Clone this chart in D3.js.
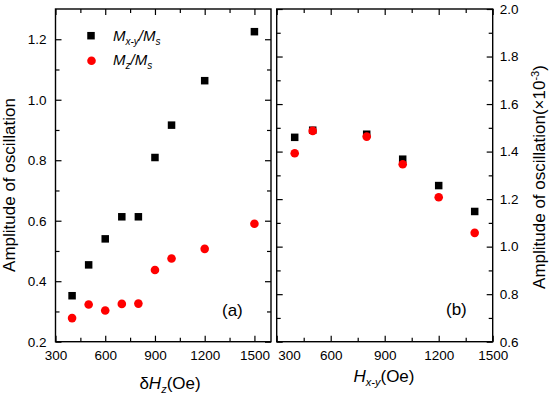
<!DOCTYPE html>
<html>
<head>
<meta charset="utf-8">
<script src="https://cdn.jsdelivr.net/npm/d3@7"></script>
<style>
  body { margin: 0; background: #fff; }
  svg { display: block; font-family: "Liberation Sans", Arial, sans-serif; }
  .tick text { font-size: 13.5px; fill: #000; }
  .tick line { stroke: #000; stroke-width: 1.2; }
</style>
</head>
<body>
<div class="container"></div>
<script>
// panel (a): amplitude vs dHz
const dHz = [400, 500, 600, 700, 800, 900, 1000, 1200, 1500];
const mxyA = [0.352, 0.454, 0.540, 0.613, 0.613, 0.809, 0.916, 1.063, 1.225];
const mzA = [0.278, 0.323, 0.303, 0.325, 0.326, 0.437, 0.475, 0.507, 0.590];

// panel (b): amplitude (x1e-3) vs Hxy
const Hxy = [400, 500, 800, 1000, 1200, 1400];
const mxyB = [1.460, 1.490, 1.473, 1.368, 1.257, 1.148];
const mzB = [1.393, 1.487, 1.463, 1.347, 1.208, 1.058];

// ticks
const xTicks = [300, 600, 900, 1200, 1500];
const xMinor = [450, 750, 1050, 1350];
const yTicksA = [0.2, 0.4, 0.6, 0.8, 1.0, 1.2];
const yMinorA = [0.3, 0.5, 0.7, 0.9, 1.1];
const yTicksB = [0.6, 0.8, 1.0, 1.2, 1.4, 1.6, 1.8, 2.0];
const yMinorB = [0.7, 0.9, 1.1, 1.3, 1.5, 1.7, 1.9];

const width = 550, height = 399;
const plotTop = 9, plotBottom = 341.7;

const svg = d3.select('.container')
    .append('svg')
    .attr('width', width)
    .attr('height', height);

// scales
const xA = d3.scaleLinear().domain([300, 1600]).range([55.5, 271]);
const yA = d3.scaleLinear().domain([0.2, 1.3]).range([plotBottom, plotTop]);
const xB = d3.scaleLinear().domain([300, 1500]).range([276.7, 492.7]);
const yB = d3.scaleLinear().domain([0.6, 2.0]).range([plotBottom, plotTop]);

const fmtY = d3.format('.1f');

function drawTicks(x, y, yMajor, yMinor, yLabelSide) {
    const g = svg.append('g');
    const x0 = x.range()[0], x1 = x.range()[1];

    // bottom
    g.append('g').attr('transform', `translate(0,${plotBottom})`)
        .call(d3.axisBottom(x).tickValues(xTicks).tickSize(-6).tickPadding(9).tickFormat(d3.format('d')));
    g.append('g').attr('transform', `translate(0,${plotBottom})`)
        .call(d3.axisBottom(x).tickValues(xMinor).tickSize(-4).tickFormat(''));
    // top
    g.append('g').attr('transform', `translate(0,${plotTop})`)
        .call(d3.axisTop(x).tickValues(xTicks).tickSize(-6).tickFormat(''));
    g.append('g').attr('transform', `translate(0,${plotTop})`)
        .call(d3.axisTop(x).tickValues(xMinor).tickSize(-4).tickFormat(''));

    // left
    g.append('g').attr('transform', `translate(${x0},0)`)
        .call(d3.axisLeft(y).tickValues(yMajor).tickSize(-6).tickPadding(9)
            .tickFormat(yLabelSide === 'left' ? fmtY : ''));
    g.append('g').attr('transform', `translate(${x0},0)`)
        .call(d3.axisLeft(y).tickValues(yMinor).tickSize(-4).tickFormat(''));
    // right
    g.append('g').attr('transform', `translate(${x1},0)`)
        .call(d3.axisRight(y).tickValues(yMajor).tickSize(-6).tickPadding(7)
            .tickFormat(yLabelSide === 'right' ? fmtY : ''));
    g.append('g').attr('transform', `translate(${x1},0)`)
        .call(d3.axisRight(y).tickValues(yMinor).tickSize(-4).tickFormat(''));

    g.selectAll('.domain').remove();
    g.selectAll('g').attr('font-family', null).attr('font-size', null);

    // frame
    svg.append('rect')
        .attr('x', x0).attr('y', plotTop)
        .attr('width', x1 - x0).attr('height', plotBottom - plotTop)
        .attr('fill', 'none').attr('stroke', '#000').attr('stroke-width', 1.4);
    return g;
}

drawTicks(xA, yA, yTicksA, yMinorA, 'left');
const gB = drawTicks(xB, yB, yTicksB, yMinorB, 'right');
// first label of panel (b) sits to the right of its tick
gB.selectAll('.tick text').filter(d => d === 300).attr('text-anchor', 'start').attr('x', 1);

const sq = 7.5, rad = 4.3;

function drawPoints(x, y, xs, sqVals, cVals) {
    svg.append('g').selectAll('rect')
        .data(xs).enter().append('rect')
        .attr('x', (d) => x(d) - sq / 2)
        .attr('y', (d, i) => y(sqVals[i]) - sq / 2)
        .attr('width', sq).attr('height', sq)
        .attr('fill', '#000');
    svg.append('g').selectAll('circle')
        .data(xs).enter().append('circle')
        .attr('cx', (d) => x(d))
        .attr('cy', (d, i) => y(cVals[i]))
        .attr('r', rad)
        .attr('fill', '#ff0000');
}

drawPoints(xA, yA, dHz, mxyA, mzA);
drawPoints(xB, yB, Hxy, mxyB, mzB);

// legend
const legend = svg.append('g').attr('id', 'legend');
legend.append('rect').attr('x', 91 - sq / 2).attr('y', 35.7 - sq / 2)
    .attr('width', sq).attr('height', sq).attr('fill', '#000');
legend.append('circle').attr('cx', 91.5).attr('cy', 60.7).attr('r', rad).attr('fill', '#ff0000');

const t1 = legend.append('text').attr('x', 113).attr('y', 41)
    .attr('font-size', '15px').attr('font-style', 'italic');
t1.append('tspan').text('M');
t1.append('tspan').attr('dy', 4).attr('font-size', '10px').text('x-y');
t1.append('tspan').attr('dy', -4).text('/M');
t1.append('tspan').attr('dy', 4).attr('font-size', '10px').text('s');

const t2 = legend.append('text').attr('x', 113).attr('y', 65)
    .attr('font-size', '15px').attr('font-style', 'italic');
t2.append('tspan').text('M');
t2.append('tspan').attr('dy', 4).attr('font-size', '10px').text('z');
t2.append('tspan').attr('dy', -4).text('/M');
t2.append('tspan').attr('dy', 4).attr('font-size', '10px').text('s');

// panel labels
svg.append('text').attr('x', 222).attr('y', 316).attr('font-size', '17px').text('(a)');
svg.append('text').attr('x', 446).attr('y', 315).attr('font-size', '17px').text('(b)');

// axis titles
const xtA = svg.append('text').attr('x', 170).attr('y', 389)
    .attr('text-anchor', 'middle').attr('font-size', '17px');
xtA.append('tspan').text('δ');
xtA.append('tspan').attr('font-style', 'italic').text('H');
xtA.append('tspan').attr('font-style', 'italic').attr('font-size', '11px').attr('dy', 4).text('z');
xtA.append('tspan').attr('dy', -4).text('(Oe)');

const xtB = svg.append('text').attr('x', 384).attr('y', 382)
    .attr('text-anchor', 'middle').attr('font-size', '17px');
xtB.append('tspan').attr('font-style', 'italic').text('H');
xtB.append('tspan').attr('font-style', 'italic').attr('font-size', '11px').attr('dy', 4).text('x-y');
xtB.append('tspan').attr('dy', -4).text('(Oe)');

svg.append('text')
    .attr('transform', 'translate(15,185) rotate(-90)')
    .attr('text-anchor', 'middle').attr('font-size', '17px')
    .text('Amplitude of oscillation');

const ytB = svg.append('text')
    .attr('transform', 'translate(545,177) rotate(-90)')
    .attr('text-anchor', 'middle').attr('font-size', '17px');
ytB.append('tspan').text('Amplitude of oscillation(×10');
ytB.append('tspan').attr('dy', -6).attr('font-size', '11px').text('-3');
ytB.append('tspan').attr('dy', 6).text(')');
</script>
</body>
</html>
